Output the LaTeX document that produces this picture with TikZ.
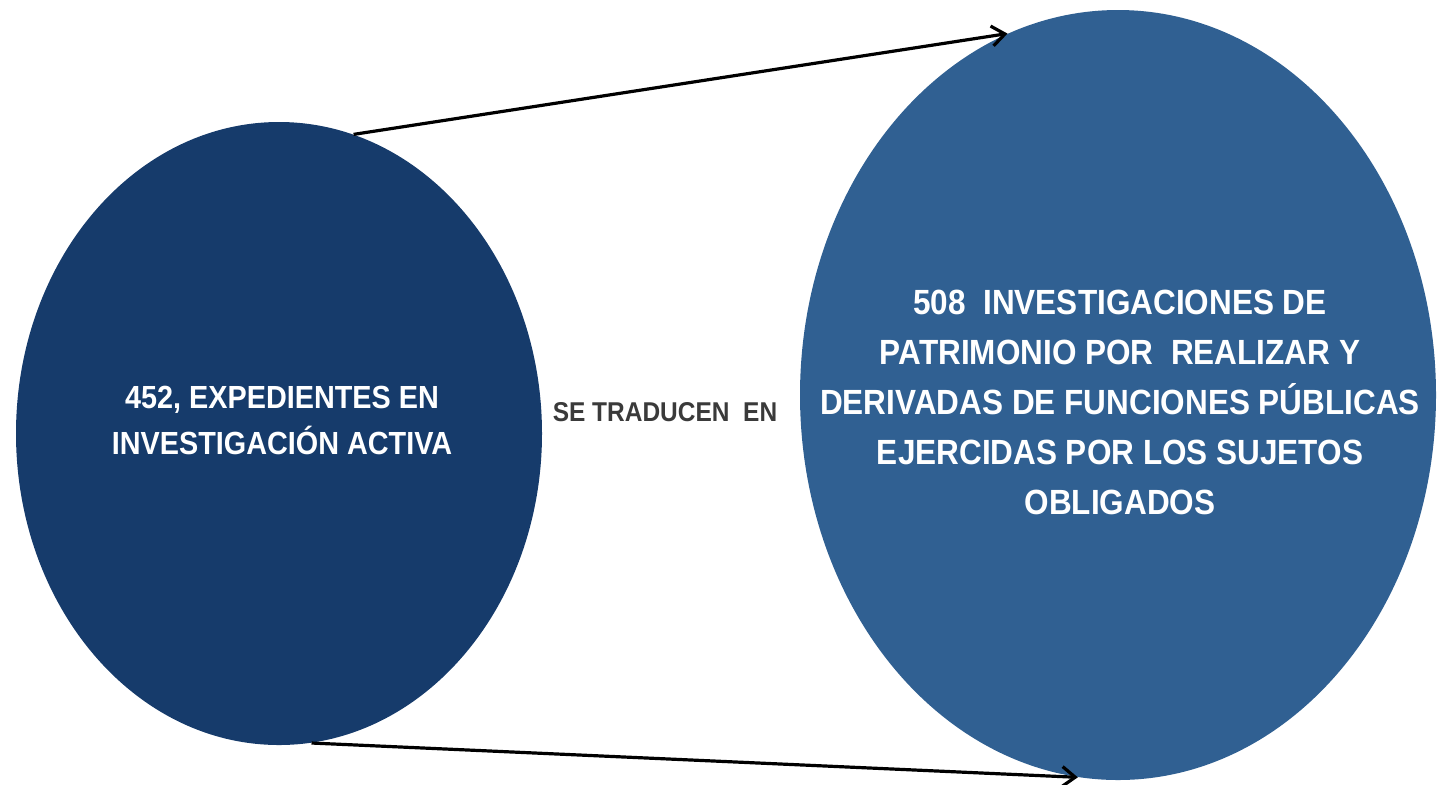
\documentclass[tikz,border=0pt]{standalone}
\usepackage{fontspec}
\newfontfamily\condfont[FakeStretch=0.9]{Liberation Sans}
\usepackage{tikz}
\usetikzlibrary{shapes.geometric,
                arrows.meta,
                positioning}
\definecolor{navyleft}{RGB}{22,59,107}
\definecolor{blueright}{RGB}{48,96,146}
\definecolor{midtext}{RGB}{58,58,58}
\tikzset{bubble/.style=
   {ellipse,
    draw=none,
    inner sep=0pt}}
\tikzset{bubble-text/.style =
   {text=white,
    align=center,
    inner sep=0pt}}
\tikzset{arrow/.style = {draw, line width=1.6pt,
    -{Straight Barb[length=6.5pt,width=10pt]}}}

\begin{document}
\begin{tikzpicture}[x=0.5pt,y=-0.5pt]

    \useasboundingbox (0,0) rectangle (1440,784);

    \node [bubble,
           fill=navyleft,
           minimum width=263pt,
           minimum height=311.5pt] (expedientes) at (279,433.5) {};
    \node [bubble,
           fill=blueright,
           minimum width=318pt,
           minimum height=385pt] (investigaciones) at (1118,395) {};

    \node [bubble-text,
           font=\condfont\bfseries\fontsize{16}{23}\selectfont]
          (expedientes-text) at ([xshift=1.5pt,yshift=6.5pt]expedientes.center)
    {452, EXPEDIENTES EN\\
     INVESTIGACIÓN ACTIVA};

    \node [bubble-text,
           font=\condfont\bfseries\fontsize{17.5}{25}\selectfont]
          (investigaciones-text) at ([xshift=1pt,yshift=-3.5pt]investigaciones.center)
    {508\ \ INVESTIGACIONES DE\\
     PATRIMONIO POR\ \ REALIZAR Y\\
     DERIVADAS DE FUNCIONES PÚBLICAS\\
     EJERCIDAS POR LOS SUJETOS\\
     OBLIGADOS};

    \node [text=midtext,
           inner sep=0pt,
           font=\condfont\bfseries\fontsize{13.6}{16}\selectfont]
          (traducen) at (665,412) {SE TRADUCEN\ \ EN};

    \path [arrow] (expedientes.76.2) -- (investigaciones.107.8);
    \path [arrow] (expedientes.276.2) -- (investigaciones.264.6);

\end{tikzpicture}
\end{document}
